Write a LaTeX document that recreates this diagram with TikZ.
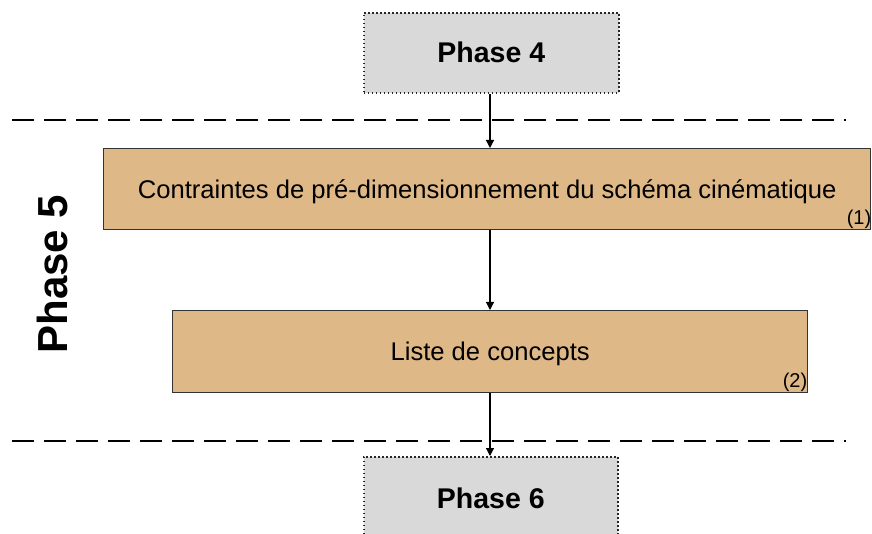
\documentclass[tikz,border=0pt]{standalone}
\usepackage{fontspec}
\setmainfont{Liberation Sans}
\usetikzlibrary{arrows.meta}
\definecolor{tanfill}{RGB}{222,184,135}
\definecolor{grayfill}{RGB}{217,217,217}
\begin{document}
\begin{tikzpicture}[x=1pt,y=-1pt,
  phasebox/.style={draw=black!85, fill=grayfill, line width=1.6pt, dash pattern=on 1.6pt off 2.4pt, inner sep=0pt, anchor=north west},
  stepbox/.style={draw=black!80, fill=tanfill, line width=1.4pt, inner sep=0pt, anchor=north west},
  sep/.style={line width=1.9pt, dash pattern=on 22pt off 10pt},
  conn/.style={line width=1.2pt, -{Triangle[length=8pt,width=8pt]}},
  tag/.style={font=\fontsize{20}{22}\selectfont, anchor=south east, inner sep=1pt}]
\useasboundingbox (0,0) rectangle (872,534);
% phase boxes
\node[phasebox, minimum width=255pt, minimum height=80pt] (p4) at (363,12) {};
\node[font=\bfseries\fontsize{28.5}{30}\selectfont] (p4t) at (p4.center) {Phase 4};
\node[phasebox, minimum width=254pt, minimum height=84pt] (p6) at (363,456) {};
\node[font=\bfseries\fontsize{28.5}{30}\selectfont] (p6t) at (p6.center) {Phase 6};
% separators
\coordinate (s1a) at (12,120); \coordinate (s1b) at (846,120);
\coordinate (s2a) at (12,441); \coordinate (s2b) at (846,441);
\draw[sep] (s1a) -- (s1b);
\draw[sep] (s2a) -- (s2b);
% step boxes
\node[stepbox, minimum width=767pt, minimum height=81pt] (b1) at (103,148) {};
\node[font=\fontsize{25.6}{28}\selectfont] (b1t) at ([yshift=-3pt]b1.center) {Contraintes de pré-dimensionnement du schéma cinématique};
\node[tag] (b1n) at ([xshift=1pt,yshift=1pt]b1.south east) {(1)};
\node[stepbox, minimum width=635pt, minimum height=82pt] (b2) at (172,310) {};
\node[font=\fontsize{25.6}{28}\selectfont] (b2t) at ([yshift=-2pt]b2.center) {Liste de concepts};
\node[tag] (b2n) at ([xshift=0pt,yshift=1pt]b2.south east) {(2)};
% phase 5 label
\node[font=\bfseries\fontsize{42}{44}\selectfont, rotate=90] (p5) at (52,274) {Phase 5};
% connectors
\draw[conn] (p4.south -| 490,0) -- (b1.north -| 490,0);
\draw[conn] (b1.south -| 490,0) -- (b2.north -| 490,0);
\draw[conn] (b2.south -| 490,0) -- (p6.north -| 490,0);
\end{tikzpicture}
\end{document}
